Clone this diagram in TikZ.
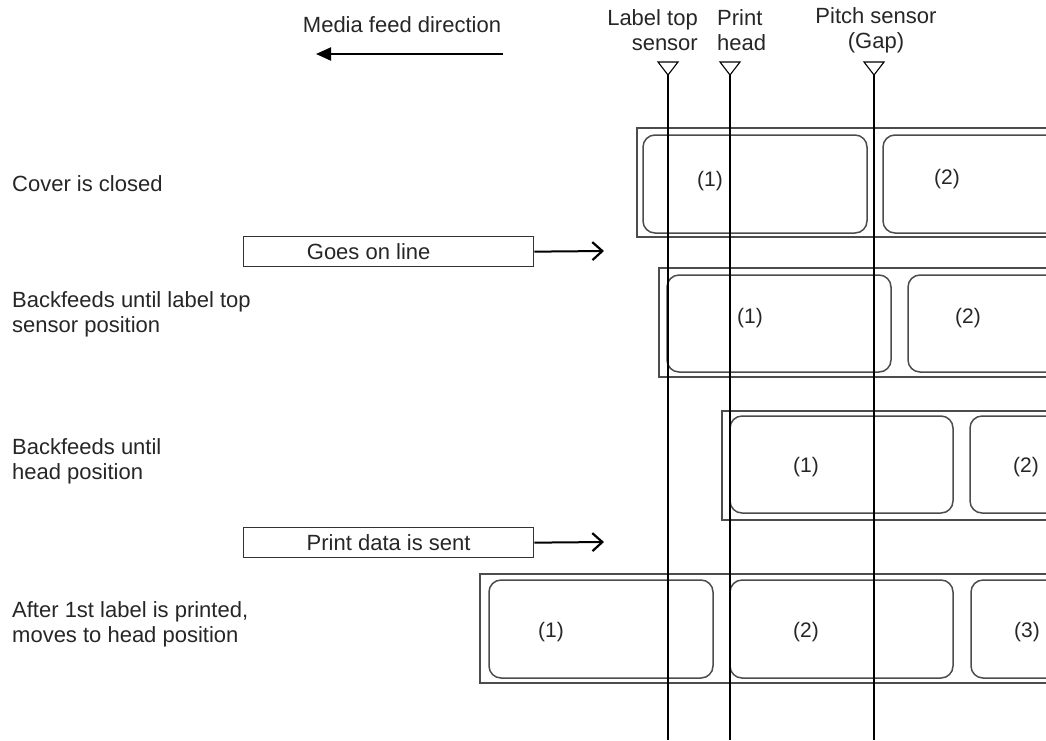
\documentclass[tikz,border=0pt]{standalone}
\usepackage{fontspec}
\setmainfont{Liberation Sans}
\usetikzlibrary{arrows.meta}
\begin{document}
\begin{tikzpicture}[x=1pt,y=-1pt,
  every node/.style={font=\fontsize{22}{25}\selectfont, inner sep=0pt, text=black!85},
  tape/.style={draw=black!70, line width=1.5pt},
  lbl/.style={draw=black!70, line width=1.5pt, rounded corners=12pt},
  msgbox/.style={draw=black!80, line width=1.3pt, minimum width=290pt, minimum height=30pt, anchor=north west},
  sensorline/.style={draw=black, line width=1.3pt},
  tri/.style={draw=black, line width=1.1pt},
  num/.style={font=\fontsize{21}{24}\selectfont},
  desc/.style={anchor=west, align=left},
  fwd/.style={line width=2pt, -{Straight Barb[length=10pt,width=18pt,line width=2.2pt]}},
  feed/.style={line width=2pt, -{Triangle[length=15pt,width=13pt]}}
]
\useasboundingbox (0,0) rectangle (1046,740);
\clip (0,0) rectangle (1046,740);

% headings
\node (mfd) at (402,25) {Media feed direction};
\coordinate (mfdA) at (503,54);
\coordinate (mfdB) at (316,54);
\draw[feed] (mfdA) -- (mfdB);

\node[align=right, anchor=east] (lts) at (698,30) {Label top\\sensor};
\node[align=left, anchor=west] (ph) at (717,30) {Print\\head};
\node[align=center] (ps) at (876,30) {Pitch sensor\\(Gap)};

% row 1
\node[desc] (r1) at (12,184) {Cover is closed};
\draw[tape] (637,128) rectangle (1200,237);
\draw[lbl] (643,135) rectangle (867,233);
\draw[lbl] (883,135) rectangle (1107,233);
\node[num] (r1a) at (710,181) {(1)};
\node[num] (r1b) at (947,179) {(2)};

% message 1
\node[msgbox] (goes) at (243,236) {\hspace*{-40pt}Goes on line};
\coordinate (goesEnd) at (604,251);
\draw[fwd] (goes.east) -- (goesEnd);

% row 3
\node[desc] (r3) at (12,314) {Backfeeds until label top\\sensor position};
\draw[tape] (659,268) rectangle (1200,377);
\draw[lbl] (667,275) rectangle (891,372);
\draw[lbl] (908,275) rectangle (1132,372);
\node[num] (r3a) at (750,318) {(1)};
\node[num] (r3b) at (968,318) {(2)};

% row 4
\node[desc] (r4) at (12,461) {Backfeeds until\\head position};
\draw[tape] (722,411) rectangle (1200,520);
\draw[lbl] (730,416) rectangle (953,513);
\draw[lbl] (970,416) rectangle (1194,513);
\node[num] (r4a) at (806,467) {(1)};
\node[num] (r4b) at (1026,467) {(2)};

% message 2
\node[msgbox] (pds) at (243,527) {Print data is sent};
\coordinate (pdsEnd) at (604,542);
\draw[fwd] (pds.east) -- (pdsEnd);

% row 6
\node[desc] (r6) at (12,624) {After 1st label is printed,\\moves to head position};
\draw[tape] (480,574) rectangle (1200,683);
\draw[lbl] (489,580) rectangle (713,678);
\draw[lbl] (730,580) rectangle (953,678);
\draw[lbl] (971,580) rectangle (1194,678);
\node[num] (r6a) at (551,632) {(1)};
\node[num] (r6b) at (806,632) {(2)};
\node[num] (r6c) at (1027,632) {(3)};

% sensors
\draw[tri] (658,62) -- (678,62) -- (668,75) -- cycle;
\draw[tri] (720,62) -- (740,62) -- (730,75) -- cycle;
\draw[tri] (864,62) -- (884,62) -- (874,75) -- cycle;
\coordinate (s1) at (668,75); \coordinate (s1e) at (668,740);
\coordinate (s2) at (730,75); \coordinate (s2e) at (730,740);
\coordinate (s3) at (874,75); \coordinate (s3e) at (874,740);
\draw[sensorline] (s1) -- (s1e);
\draw[sensorline] (s2) -- (s2e);
\draw[sensorline] (s3) -- (s3e);
\end{tikzpicture}
\end{document}
